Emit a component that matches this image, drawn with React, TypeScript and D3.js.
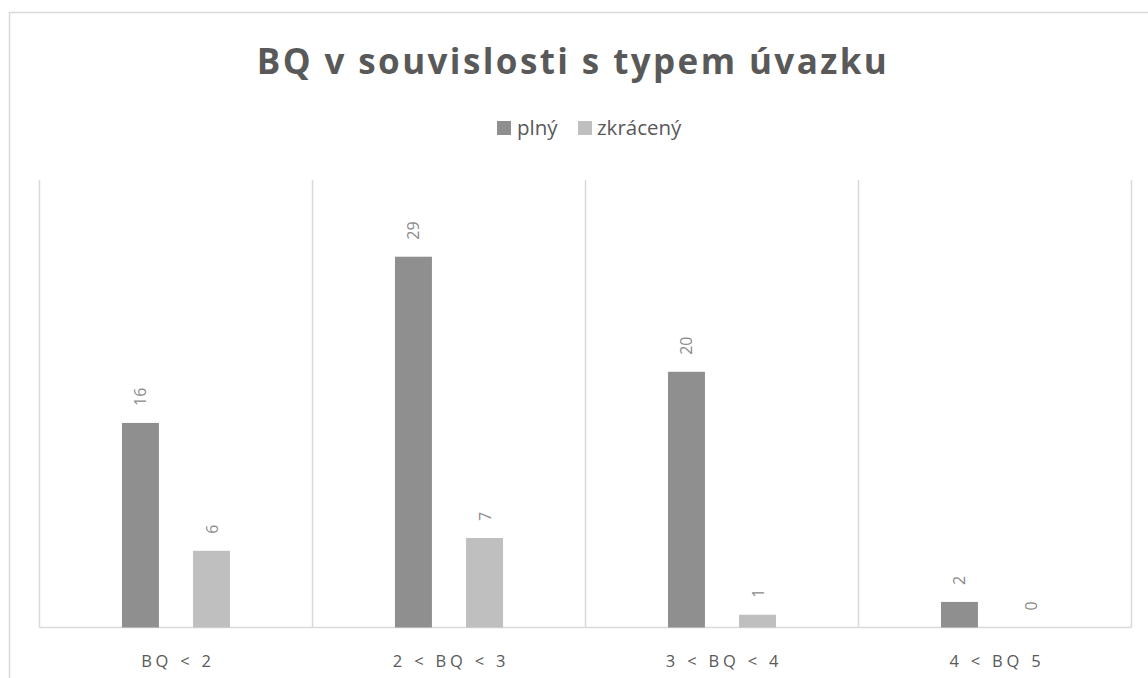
import React from "react";
import * as d3 from "d3";

const categories = ["BQ < 2", "2 < BQ < 3", "3 < BQ < 4", "4 < BQ 5"];
const seriesNames = ["plný", "zkrácený"];
const plny = [16, 29, 20, 2];
const zkraceny = [6, 7, 1, 0];
const seriesColors = ["#8f8f8f", "#bfbfbf"];
const title = "BQ v souvislosti s typem úvazku";

const W = 1148;
const H = 678;
const plot = { left: 39.5, right: 1131.5, top: 180, bottom: 627.5 };
const FONT = "'Open Sans', 'Noto Sans', sans-serif";

export default function App() {
  const x = d3.scaleBand<string>().domain(categories).range([plot.left, plot.right]).padding(0);
  const inner = d3
    .scaleBand<string>()
    .domain(seriesNames)
    .range([0, x.bandwidth()])
    .paddingInner(0.48)
    .paddingOuter(1.16);
  const y = d3.scaleLinear().domain([0, 35]).range([plot.bottom, plot.top]);
  const series = [plny, zkraceny];

  const gridXs = [...categories.map((c) => x(c)!), plot.right];

  return (
    <svg
      width={W}
      height={H}
      style={{ position: "absolute", left: 0, top: 0, background: "#fff" }}
      fontFamily={FONT}
    >
      <rect x={0} y={0} width={W} height={H} fill="#fff" />
      <rect x={9.5} y={12.5} width={W + 20} height={H + 20} fill="none" stroke="#d9d9d9" strokeWidth={1.5} />
      <text
        x={573}
        y={74}
        textAnchor="middle"
        fontSize={35}
        fontWeight="bold"
        fill="#595959"
        letterSpacing={2.4}
      >
        {title}
      </text>
      {/* legend */}
      <g fontSize={20.5} fill="#595959">
        <rect x={497} y={121} width={14} height={14} fill={seriesColors[0]} />
        <text x={517} y={135}>{seriesNames[0]}</text>
        <rect x={578} y={121} width={14} height={14} fill={seriesColors[1]} />
        <text x={597} y={135}>{seriesNames[1]}</text>
      </g>
      {/* gridlines */}
      {gridXs.map((gx, i) => (
        <line key={i} x1={gx} x2={gx} y1={plot.top} y2={plot.bottom} stroke="#d9d9d9" strokeWidth={1.5} />
      ))}
      <line x1={plot.left} x2={plot.right} y1={plot.bottom} y2={plot.bottom} stroke="#d9d9d9" strokeWidth={1.5} />
      {/* bars */}
      {categories.map((c, ci) =>
        series.map((vals, si) => {
          const v = vals[ci];
          const bx = x(c)! + inner(seriesNames[si])!;
          const bw = inner.bandwidth();
          const top = y(v);
          const cx = bx + bw / 2;
          const ly = top - 17;
          return (
            <g key={`${ci}-${si}`}>
              {v > 0 && (
                <rect x={bx} y={top} width={bw} height={plot.bottom - top} fill={seriesColors[si]} />
              )}
              <text
                transform={`translate(${cx},${ly}) rotate(-90)`}
                textAnchor="start"
                dominantBaseline="central"
                fontSize={16}
                fill="#8a8a8a"
              >
                {v}
              </text>
            </g>
          );
        })
      )}
      {/* category labels */}
      {categories.map((c) => (
        <text
          key={c}
          x={x(c)! + x.bandwidth() / 2 + 2}
          y={667}
          textAnchor="middle"
          fontSize={16.5}
          fill="#595959"
          letterSpacing={3.8}
        >
          {c}
        </text>
      ))}
    </svg>
  );
}
